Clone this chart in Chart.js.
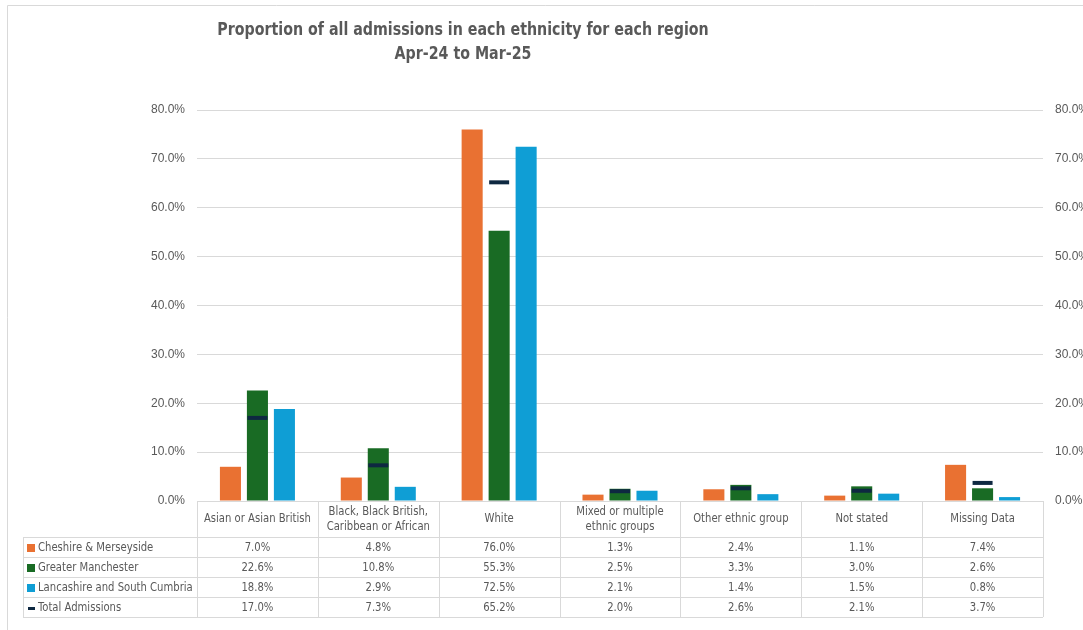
<!DOCTYPE html>
<html>
<head>
<meta charset="utf-8">
<script src="https://cdn.jsdelivr.net/npm/chart.js@4"></script>
<style>
  html, body { margin: 0; padding: 0; background: #fff; }
  #wrap { width: 1083px; height: 630px; position: relative; }
</style>
</head>
<body>
<div id="wrap"><canvas id="ethChart" width="1083" height="630"></canvas></div>
<script>
// ethnicity groups (x categories)
var categories = [
  "Asian or Asian British",
  ["Black, Black British,", "Caribbean or African"],
  "White",
  ["Mixed or multiple", "ethnic groups"],
  "Other ethnic group",
  "Not stated",
  "Missing Data"
];

var regionNames = ["Cheshire & Merseyside", "Greater Manchester", "Lancashire and South Cumbria"];
var totalName = "Total Admissions";

// % of admissions
var cheshire = [7.0, 4.8, 76.0, 1.3, 2.4, 1.1, 7.4];
var manchester = [22.6, 10.8, 55.3, 2.5, 3.3, 3.0, 2.6];
var lancashire = [18.8, 2.9, 72.5, 2.1, 1.4, 1.5, 0.8];
var totalAdm = [17.0, 7.3, 65.2, 2.0, 2.6, 2.1, 3.7];

var yTicks = [0, 10, 20, 30, 40, 50, 60, 70, 80];

var colours = ["#E97132", "#196B24", "#0F9ED5"];
var totalColour = "#0E2841";
var textGrey = "#595959";
var lineGrey = "#D9D9D9";
var narrow = "'DejaVu Sans Condensed', 'Liberation Sans', sans-serif";

function pct(v) { return v.toFixed(1) + "%"; }

// text squeezed sideways a bit (narrow look)
function squeezeText(ctx, txt, x, y, sx) {
  ctx.save();
  ctx.translate(x, y);
  ctx.scale(sx, 1);
  ctx.fillText(txt, 0, 0);
  ctx.restore();
}

// frame + title
var framePlugin = {
  id: "framePlugin",
  beforeDraw: function(chart) {
    var ctx = chart.ctx;
    ctx.save();
    ctx.strokeStyle = lineGrey;
    ctx.lineWidth = 1;
    ctx.beginPath();
    ctx.moveTo(7.5, 630);
    ctx.lineTo(7.5, 5.5);
    ctx.lineTo(1083, 5.5);
    ctx.stroke();

    ctx.fillStyle = textGrey;
    ctx.textAlign = "center";
    ctx.textBaseline = "middle";
    ctx.font = "bold 17px " + narrow;
    squeezeText(ctx, "Proportion of all admissions in each ethnicity for each region", 463, 31, 0.93);
    squeezeText(ctx, "Apr-24 to Mar-25", 463, 55, 0.93);
    ctx.restore();
  }
};

// data table under the plot, columns follow the x scale
var tablePlugin = {
  id: "tablePlugin",
  afterDraw: function(chart) {
    var ctx = chart.ctx;
    var x = chart.scales.x;
    var top = chart.scales.y.bottom;
    var n = categories.length;
    var w = (x.right - x.left) / n;
    var headBottom = top + 36;
    var rowH = 20;
    var tableLeft = 23;
    var sq = 0.86;
    var rows = [cheshire, manchester, lancashire, totalAdm];
    var names = regionNames.concat([totalName]);
    var bottom = headBottom + rowH * rows.length;

    ctx.save();
    ctx.strokeStyle = lineGrey;
    ctx.lineWidth = 1;
    ctx.beginPath();
    // horizontal lines
    ctx.moveTo(x.left, Math.round(top) + 0.5);
    ctx.lineTo(x.right, Math.round(top) + 0.5);
    for (var r = 0; r <= rows.length; r++) {
      var yy = Math.round(headBottom + r * rowH) + 0.5;
      ctx.moveTo(tableLeft, yy);
      ctx.lineTo(x.right, yy);
    }
    // vertical lines
    for (var i = 0; i <= n; i++) {
      var xx = Math.round(x.left + i * w) + 0.5;
      ctx.moveTo(xx, top);
      ctx.lineTo(xx, bottom);
    }
    ctx.moveTo(tableLeft + 0.5, headBottom);
    ctx.lineTo(tableLeft + 0.5, bottom);
    ctx.stroke();

    ctx.fillStyle = textGrey;
    ctx.font = "13px " + narrow;
    ctx.textBaseline = "middle";
    ctx.textAlign = "center";

    // header labels
    for (var c = 0; c < n; c++) {
      var cx = x.getPixelForValue(c);
      var lab = categories[c];
      var midY = (top + headBottom) / 2;
      if (Array.isArray(lab)) {
        squeezeText(ctx, lab[0], cx, midY - 7, sq);
        squeezeText(ctx, lab[1], cx, midY + 8, sq);
      } else {
        squeezeText(ctx, lab, cx, midY, sq);
      }
    }

    // rows
    for (var r2 = 0; r2 < rows.length; r2++) {
      var cy = headBottom + r2 * rowH + rowH / 2 + 1;
      ctx.textAlign = "center";
      ctx.fillStyle = textGrey;
      for (var k = 0; k < n; k++) {
        squeezeText(ctx, pct(rows[r2][k]), x.getPixelForValue(k), cy, sq);
      }
      // key
      if (r2 < 3) {
        ctx.fillStyle = colours[r2];
        ctx.fillRect(27, Math.round(cy) - 4, 8, 8);
      } else {
        ctx.fillStyle = totalColour;
        ctx.fillRect(28, Math.round(cy) - 1, 7, 3);
      }
      ctx.fillStyle = textGrey;
      ctx.textAlign = "left";
      squeezeText(ctx, names[r2], 38, cy, sq);
    }
    ctx.restore();
  }
};

var tickFont = { family: "'Liberation Sans', Arial, sans-serif", size: 12 };

new Chart(document.getElementById("ethChart"), {
  data: {
    labels: categories,
    datasets: [
      {
        type: "line",
        label: totalName,
        data: totalAdm,
        showLine: false,
        pointStyle: "line",
        pointRadius: 10,
        pointHoverRadius: 10,
        borderColor: totalColour,
        backgroundColor: totalColour,
        borderWidth: 4,
        yAxisID: "y",
        order: 0
      },
      { type: "bar", label: regionNames[0], data: cheshire, backgroundColor: colours[0], yAxisID: "y", order: 1 },
      { type: "bar", label: regionNames[1], data: manchester, backgroundColor: colours[1], yAxisID: "y", order: 1 },
      { type: "bar", label: regionNames[2], data: lancashire, backgroundColor: colours[2], yAxisID: "y", order: 1 }
    ]
  },
  options: {
    responsive: false,
    animation: false,
    events: [],
    datasets: {
      bar: { categoryPercentage: 0.67, barPercentage: 0.78 }
    },
    layout: { padding: { left: 0, right: 0, top: 110, bottom: 129 } },
    plugins: {
      legend: { display: false },
      tooltip: { enabled: false },
      title: { display: false }
    },
    scales: {
      x: { display: false },
      y: {
        position: "left",
        min: 0,
        max: 80,
        afterBuildTicks: function(s) { s.ticks = yTicks.map(function(v) { return { value: v }; }); },
        afterFit: function(s) { s.width = 197; },
        border: { display: false },
        grid: { color: lineGrey, drawTicks: false },
        ticks: { padding: 12, color: textGrey, font: tickFont, callback: function(v) { return pct(v); } }
      },
      y2: {
        position: "right",
        min: 0,
        max: 80,
        afterBuildTicks: function(s) { s.ticks = yTicks.map(function(v) { return { value: v }; }); },
        afterFit: function(s) { s.width = 40; },
        border: { display: false },
        grid: { display: false, drawTicks: false },
        ticks: { padding: 12, color: textGrey, font: tickFont, callback: function(v) { return pct(v); } }
      }
    }
  },
  plugins: [framePlugin, tablePlugin]
});
</script>
</body>
</html>
